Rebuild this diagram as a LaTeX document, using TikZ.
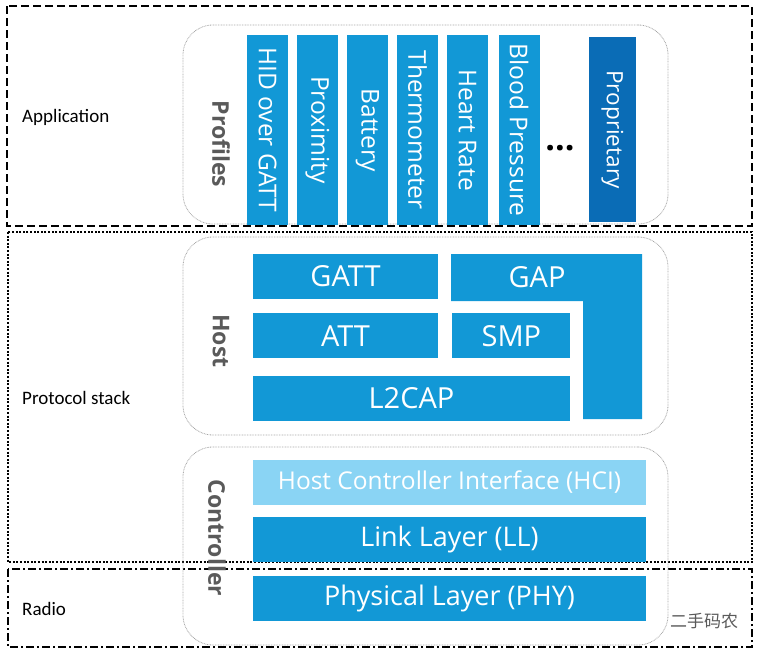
\documentclass[tikz,border=0pt]{standalone}
\usepackage{fontspec}
\setmainfont{Open Sans}
\newfontfamily\sidefont{Carlito}
\newfontfamily\cjkfont{Noto Sans CJK SC}
\usepackage{xcolor}
\usepackage{tikz}
\usetikzlibrary{positioning}
\definecolor{bleblue}{RGB}{18,152,214}
\definecolor{bledarkblue}{RGB}{10,108,182}
\definecolor{blelightblue}{RGB}{138,212,244}
\definecolor{blegray}{RGB}{90,90,90}

\begin{document}
\begin{tikzpicture}[
    x=1pt, y=-1pt,
    layer/.style={rectangle, fill=bleblue, text=white, inner sep=0pt,
                  minimum height=45pt, font=\fontsize{27}{27}\selectfont},
    profile/.style={rectangle, fill=bleblue, text=white, inner sep=0pt, rotate=-90,
                    minimum width=190pt, minimum height=41pt, font=\fontsize{24.5}{24.5}\selectfont},
    group/.style={rectangle, rounded corners=30pt, draw=gray!70, line width=0.8pt,
                  dash pattern=on 0.8pt off 0.8pt, inner sep=0pt},
    grouplabel/.style={rotate=-90, text=blegray, font=\fontsize{23}{23}\selectfont\bfseries},
    sidelabel/.style={anchor=west, inner sep=0pt, font=\sidefont\fontsize{19}{19}\selectfont}
]
    \useasboundingbox (0,0) rectangle (758,657);

    % outer regions
    \draw[line width=2pt, dash pattern=on 8pt off 4pt] (7,6) rectangle (752,226);
    \draw[line width=2pt, dash pattern=on 2pt off 1.6pt] (8,232) rectangle (752,562);
    \draw[line width=2pt, dash pattern=on 8pt off 3pt on 2pt off 3pt] (8,569) rectangle (752,647);
    \node[sidelabel] (application) at (22,117) {Application};
    \node[sidelabel] (protocol)    at (22,398) {Protocol stack};
    \node[sidelabel] (radio)       at (22,609) {Radio};

    % rounded groups
    \node[group, minimum width=485pt, minimum height=199pt] (profilesbox)   at (425.5,124.5) {};
    \node[group, minimum width=485pt, minimum height=198pt] (hostbox)       at (425.5,336) {};
    \node[group, minimum width=485pt, minimum height=198pt] (controllerbox) at (425.5,546) {};
    \node[grouplabel] (profiles)   at (221,144) {Profiles};
    \node[grouplabel] (host)       at (221,341) {Host};
    \node[grouplabel] (controller) at (217,538) {Controller};

    % profiles
    \node[profile] (hid)       at (267.5,130) {HID over GATT};
    \node[profile] (proximity) at (317.5,130) {Proximity};
    \node[profile] (battery)   at (367.5,130) {Battery};
    \node[profile] (thermo)    at (417.5,130) {Thermometer};
    \node[profile] (heart)     at (467.5,130) {Heart Rate};
    \node[profile] (blood)     at (519,130)   {Blood Pressure};
    \node[font=\fontsize{34}{34}\selectfont\bfseries] (dots) at (560,148) {...};
    \node[profile, fill=bledarkblue, minimum width=185pt, minimum height=47pt,
          font=\fontsize{22.5}{22.5}\selectfont] (proprietary) at (612.5,129.5) {Proprietary};

    % host
    \node[layer, minimum width=185pt, font=\fontsize{29}{29}\selectfont] (gatt) at (345.5,276.5) {GATT};
    \node[layer, minimum width=185pt, font=\fontsize{29}{29}\selectfont, below=14pt of gatt] (att) {ATT};
    \node[layer, minimum width=317pt, font=\fontsize{29}{29}\selectfont,
          below=17pt of att.south west, anchor=north west] (l2cap) {L2CAP};
    \node[layer, minimum width=118pt, font=\fontsize{29}{29}\selectfont, right=14pt of att] (smp) {SMP};
    \fill[bleblue] (451,254) -- (642,254) -- (642,419) -- (583,419) -- (583,301) -- (451,301) -- cycle;
    \node[text=white, font=\fontsize{29}{29}\selectfont] (gap) at (537,277) {GAP};

    % controller
    \node[layer, minimum width=393pt, fill=blelightblue, font=\fontsize{24.5}{24.5}\selectfont] (hci) at (449.5,482) {Host Controller Interface (HCI)};
    \node[layer, minimum width=393pt, below=12pt of hci] (ll) {Link Layer (LL)};
    \node[layer, minimum width=393pt, below=14pt of ll] (phy) {Physical Layer (PHY)};

    \node[text=blegray, font=\cjkfont\fontsize{17}{17}\selectfont] (mark) at (704,621) {二手码农};
\end{tikzpicture}
\end{document}
